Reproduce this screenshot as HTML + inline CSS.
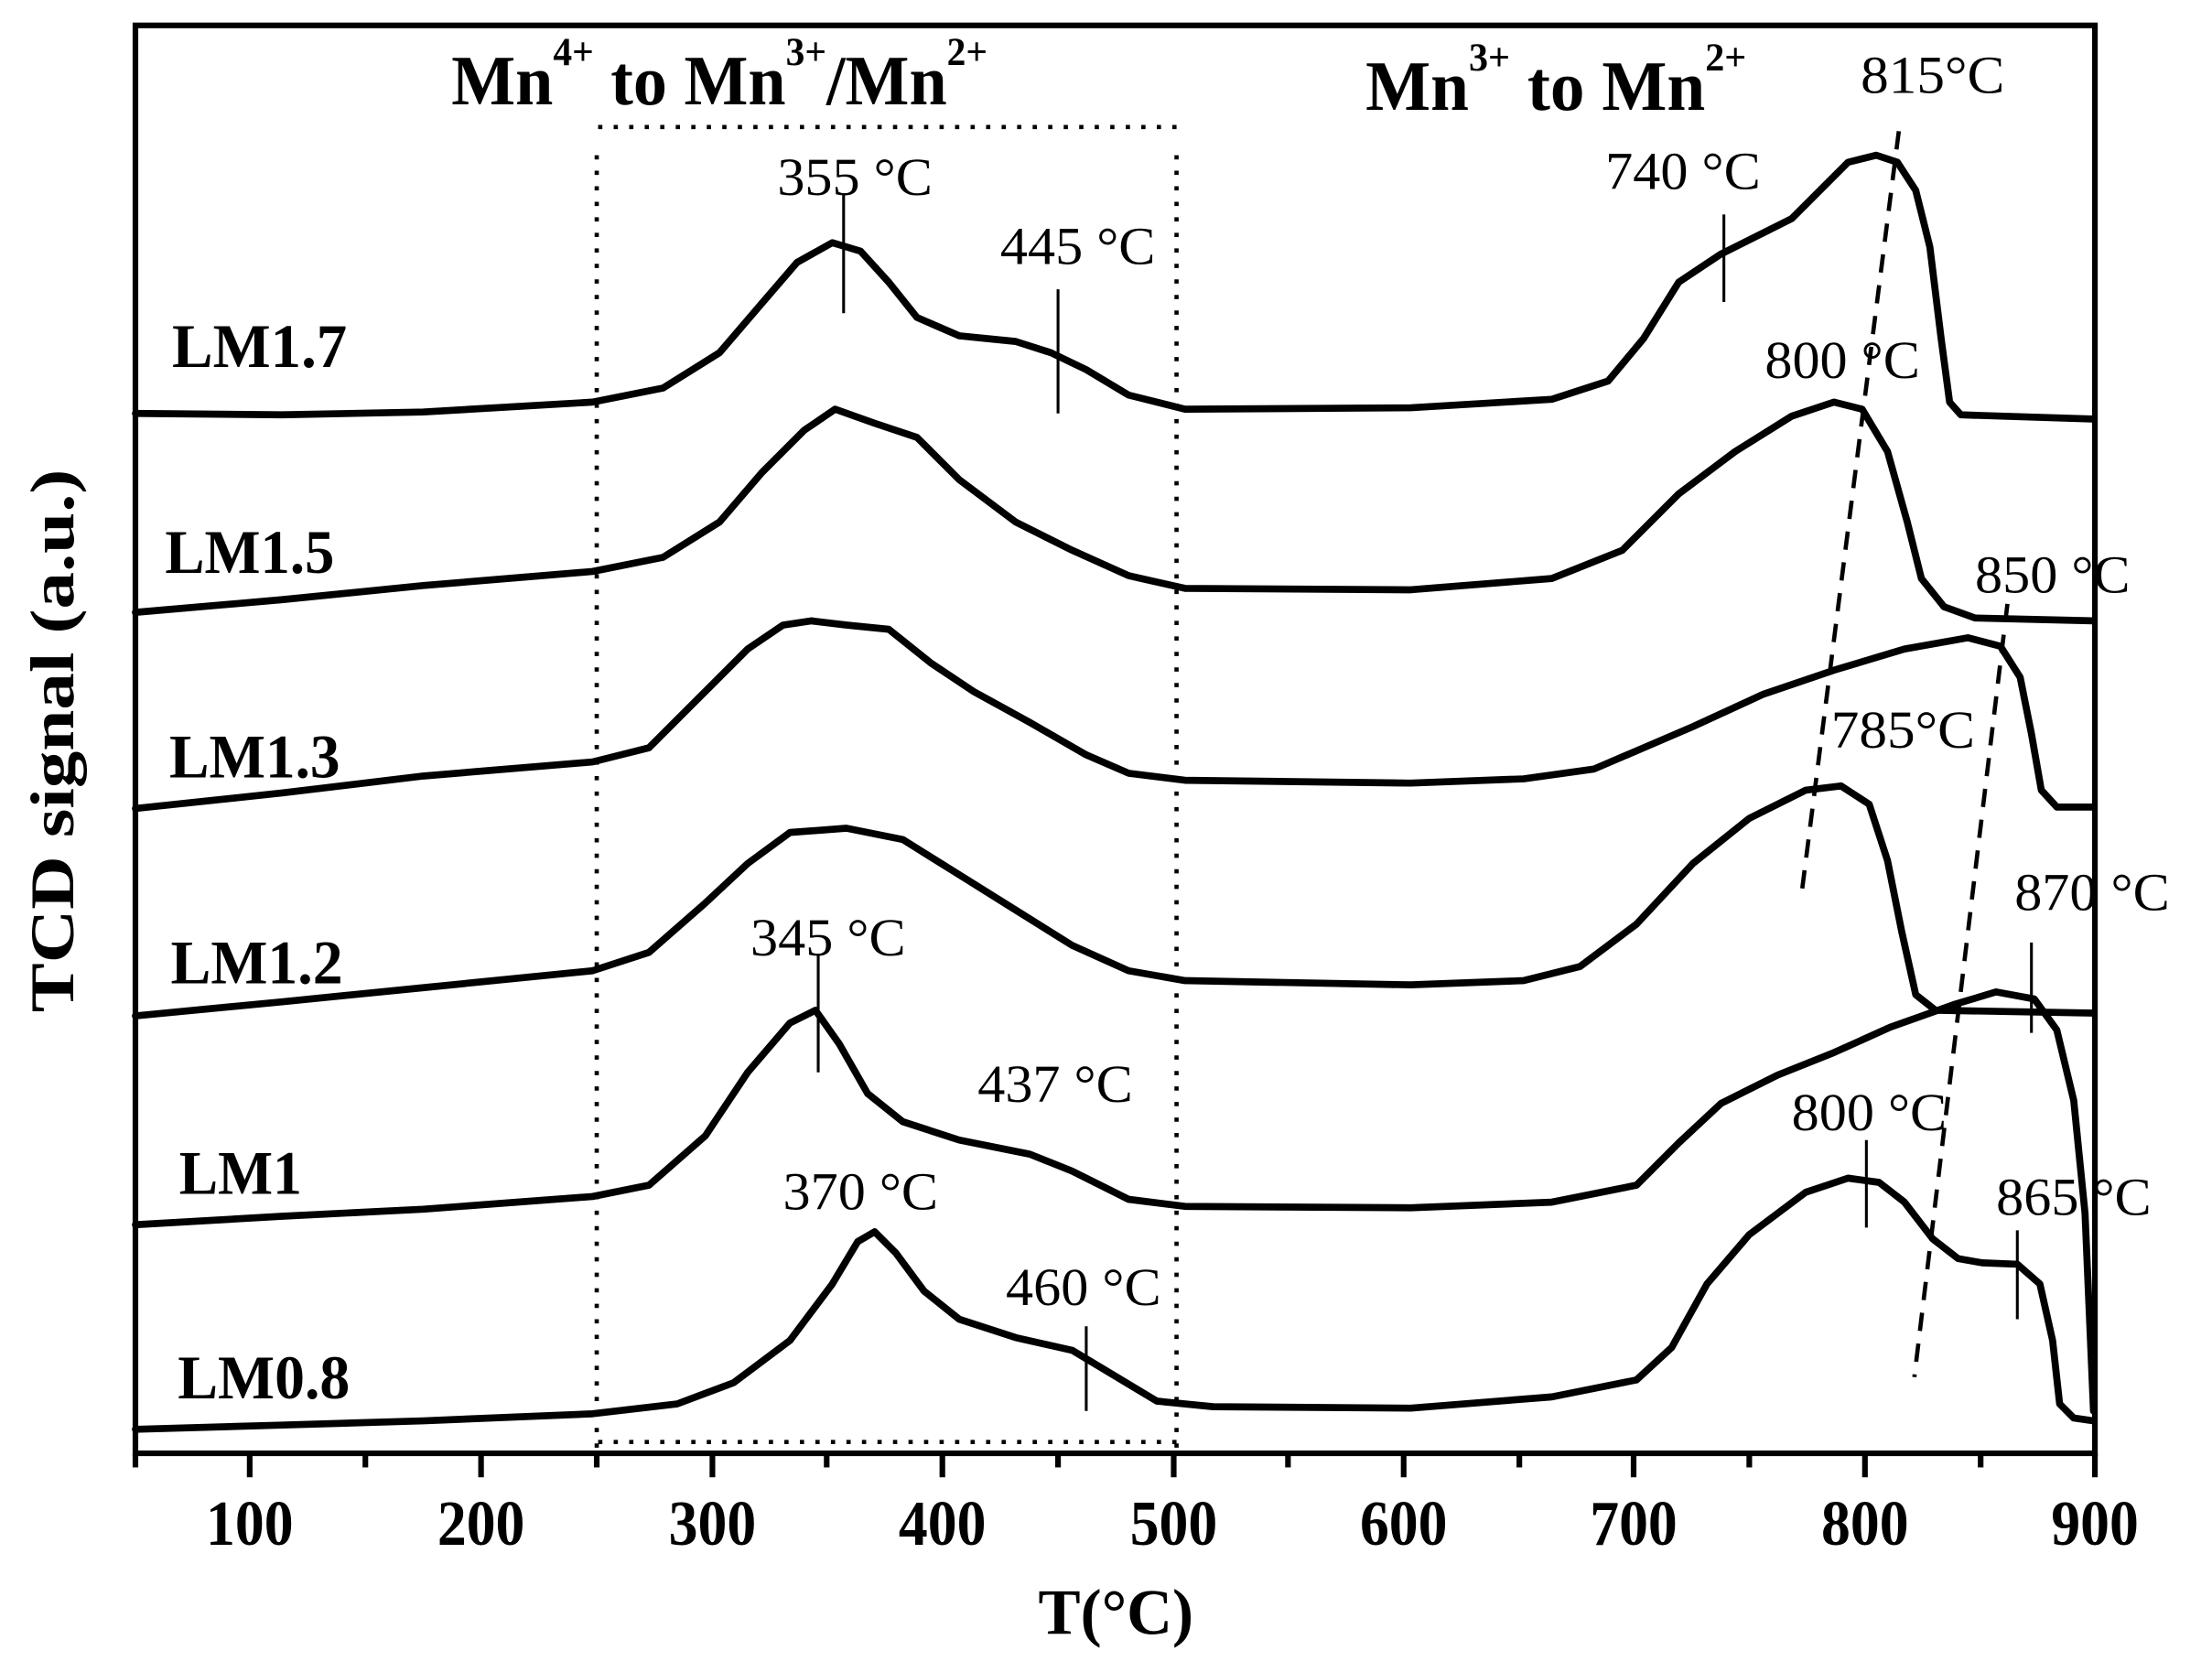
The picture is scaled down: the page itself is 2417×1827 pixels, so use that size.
<!DOCTYPE html>
<html><head><meta charset="utf-8"><style>
html,body{margin:0;padding:0;background:#fff;}
svg{display:block;}
text{font-family:"Liberation Serif",serif;fill:#000;}
.b{font-weight:bold;}
</style></head><body>
<svg width="2417" height="1827" viewBox="0 0 1568 1185" preserveAspectRatio="none" xmlns="http://www.w3.org/2000/svg">
<rect width="1568" height="1185" fill="#fff"/>
<rect x="96" y="18" width="1389" height="1012" fill="none" stroke="#000" stroke-width="4"/>
<g stroke="#000" stroke-width="4">
<line x1="177" y1="1030" x2="177" y2="1047"/><line x1="341" y1="1030" x2="341" y2="1047"/>
<line x1="505" y1="1030" x2="505" y2="1047"/><line x1="668" y1="1030" x2="668" y2="1047"/>
<line x1="832" y1="1030" x2="832" y2="1047"/><line x1="995" y1="1030" x2="995" y2="1047"/>
<line x1="1158" y1="1030" x2="1158" y2="1047"/><line x1="1322" y1="1030" x2="1322" y2="1047"/>
<line x1="1485" y1="1030" x2="1485" y2="1047"/>
<line x1="96" y1="1030" x2="96" y2="1040"/><line x1="259" y1="1030" x2="259" y2="1040"/>
<line x1="423" y1="1030" x2="423" y2="1040"/><line x1="586" y1="1030" x2="586" y2="1040"/>
<line x1="750" y1="1030" x2="750" y2="1040"/><line x1="913" y1="1030" x2="913" y2="1040"/>
<line x1="1077" y1="1030" x2="1077" y2="1040"/><line x1="1240" y1="1030" x2="1240" y2="1040"/>
<line x1="1404" y1="1030" x2="1404" y2="1040"/>
</g>
<g font-size="45" text-anchor="middle">
<text x="177" y="1095" class="b" textLength="62" lengthAdjust="spacingAndGlyphs">100</text>
<text x="341" y="1095" class="b" textLength="62" lengthAdjust="spacingAndGlyphs">200</text>
<text x="505" y="1095" class="b" textLength="62" lengthAdjust="spacingAndGlyphs">300</text>
<text x="668" y="1095" class="b" textLength="62" lengthAdjust="spacingAndGlyphs">400</text>
<text x="832" y="1095" class="b" textLength="62" lengthAdjust="spacingAndGlyphs">500</text>
<text x="995" y="1095" class="b" textLength="62" lengthAdjust="spacingAndGlyphs">600</text>
<text x="1158" y="1095" class="b" textLength="62" lengthAdjust="spacingAndGlyphs">700</text>
<text x="1322" y="1095" class="b" textLength="62" lengthAdjust="spacingAndGlyphs">800</text>
<text x="1485" y="1095" class="b" textLength="62" lengthAdjust="spacingAndGlyphs">900</text>
</g>
<text x="791" y="1158" class="b" font-size="46" text-anchor="middle" textLength="110" lengthAdjust="spacingAndGlyphs">T(°C)</text>
<text transform="translate(52,525) rotate(-90)" class="b" font-size="44" text-anchor="middle" textLength="385" lengthAdjust="spacingAndGlyphs">TCD signal (a.u.)</text>
<g stroke="#000" stroke-width="3" stroke-dasharray="3,8" fill="none">
<line x1="424" y1="90" x2="834" y2="90"/>
<line x1="424" y1="1022" x2="834" y2="1022"/>
<line x1="423" y1="110" x2="423" y2="1030"/>
<line x1="834" y1="110" x2="834" y2="1030"/>
</g>
<text x="320" y="74" class="b" font-size="50" textLength="380" lengthAdjust="spacingAndGlyphs">Mn<tspan font-size="28" dy="-28">4+</tspan><tspan dy="28"> to Mn</tspan><tspan font-size="28" dy="-28">3+</tspan><tspan dy="28">/Mn</tspan><tspan font-size="28" dy="-28">2+</tspan></text>
<text x="968" y="78" class="b" font-size="50" textLength="270" lengthAdjust="spacingAndGlyphs">Mn<tspan font-size="28" dy="-28">3+</tspan><tspan dy="28"> to Mn</tspan><tspan font-size="28" dy="-28">2+</tspan></text>
<g fill="none" stroke="#000" stroke-width="5" stroke-linejoin="round" stroke-linecap="round">
<polyline points="96,293 200,294 300,292 420,285 470,275 510,250 540,215 565,186 590,172 610,178 630,200 650,225 680,238 720,242 745,250 770,262 800,280 840,290 1000,289 1100,283 1140,270 1165,240 1190,200 1220,180 1270,155 1310,115 1330,110 1345,115 1358,135 1368,175 1376,240 1382,285 1390,294 1484,297"/>
<polyline points="96,434 200,425 300,415 420,405 470,395 510,370 540,335 570,305 592,290 620,300 650,310 680,340 720,370 760,390 800,408 840,417 1000,418 1100,410 1150,390 1190,350 1230,320 1270,295 1300,285 1320,290 1338,320 1352,370 1362,410 1378,430 1400,438 1484,440"/>
<polyline points="96,573 200,562 300,550 420,540 460,530 500,490 530,460 555,443 575,440 600,443 630,446 660,470 690,490 730,512 770,535 800,548 840,553 1000,555 1080,552 1130,545 1200,515 1250,492 1300,475 1350,460 1395,452 1418,458 1432,480 1440,520 1447,560 1458,572 1484,572"/>
<polyline points="96,720 200,710 300,700 420,688 460,675 500,640 530,612 560,590 600,587 640,595 680,620 720,645 760,670 800,688 840,695 1000,698 1080,695 1120,685 1160,655 1200,612 1240,580 1280,560 1305,557 1325,570 1338,610 1348,660 1358,705 1372,716 1484,718"/>
<polyline points="96,868 200,862 300,857 420,848 460,840 500,805 530,760 560,725 578,716 595,740 615,775 640,795 680,808 730,818 760,830 800,850 840,855 1000,856 1100,852 1160,840 1190,810 1220,782 1260,762 1300,746 1340,728 1385,712 1415,703 1442,708 1458,730 1470,780 1478,860 1484,1000"/>
<polyline points="96,1013 200,1010 300,1007 420,1002 480,995 520,980 560,950 590,910 608,880 620,873 635,888 655,915 680,935 720,948 760,957 790,975 820,993 860,997 1000,998 1100,990 1160,978 1185,955 1210,910 1240,875 1280,845 1310,835 1332,838 1350,852 1370,878 1388,892 1405,895 1430,896 1446,910 1455,950 1460,995 1470,1005 1484,1007"/>
</g>
<g stroke="#000" stroke-width="3" stroke-dasharray="13,9">
<line x1="1346" y1="93" x2="1277" y2="634"/>
<line x1="1423" y1="428" x2="1357" y2="976"/>
</g>
<g stroke="#000" stroke-width="2">
<line x1="598" y1="137" x2="598" y2="222"/>
<line x1="750" y1="205" x2="750" y2="293"/>
<line x1="1222" y1="152" x2="1222" y2="214"/>
<line x1="580" y1="676" x2="580" y2="760"/>
<line x1="770" y1="940" x2="770" y2="1000"/>
<line x1="1323" y1="808" x2="1323" y2="870"/>
<line x1="1430" y1="872" x2="1430" y2="935"/>
<line x1="1440" y1="668" x2="1440" y2="732"/>
</g>
<g font-size="38" text-anchor="middle">
<text x="606" y="138" textLength="110" lengthAdjust="spacingAndGlyphs">355 °C</text>
<text x="764" y="187" textLength="110" lengthAdjust="spacingAndGlyphs">445 °C</text>
<text x="1193" y="134" textLength="110" lengthAdjust="spacingAndGlyphs">740 °C</text>
<text x="1370" y="66" textLength="102" lengthAdjust="spacingAndGlyphs">815°C</text>
<text x="1306" y="268" textLength="110" lengthAdjust="spacingAndGlyphs">800 °C</text>
<text x="1455" y="420" textLength="110" lengthAdjust="spacingAndGlyphs">850 °C</text>
<text x="1349" y="530" textLength="102" lengthAdjust="spacingAndGlyphs">785°C</text>
<text x="1483" y="645" textLength="110" lengthAdjust="spacingAndGlyphs">870 °C</text>
<text x="587" y="677" textLength="110" lengthAdjust="spacingAndGlyphs">345 °C</text>
<text x="748" y="781" textLength="110" lengthAdjust="spacingAndGlyphs">437 °C</text>
<text x="1325" y="801" textLength="110" lengthAdjust="spacingAndGlyphs">800 °C</text>
<text x="1470" y="861" textLength="110" lengthAdjust="spacingAndGlyphs">865 °C</text>
<text x="610" y="857" textLength="110" lengthAdjust="spacingAndGlyphs">370 °C</text>
<text x="768" y="925" textLength="110" lengthAdjust="spacingAndGlyphs">460 °C</text>
</g>
<g font-size="44">
<text x="122" y="260" class="b" textLength="124" lengthAdjust="spacingAndGlyphs">LM1.7</text>
<text x="117" y="406" class="b" textLength="120" lengthAdjust="spacingAndGlyphs">LM1.5</text>
<text x="120" y="551" class="b" textLength="121" lengthAdjust="spacingAndGlyphs">LM1.3</text>
<text x="121" y="697" class="b" textLength="122" lengthAdjust="spacingAndGlyphs">LM1.2</text>
<text x="127" y="846" class="b" textLength="87" lengthAdjust="spacingAndGlyphs">LM1</text>
<text x="126" y="991" class="b" textLength="122" lengthAdjust="spacingAndGlyphs">LM0.8</text>
</g>
</svg>
</body></html>
